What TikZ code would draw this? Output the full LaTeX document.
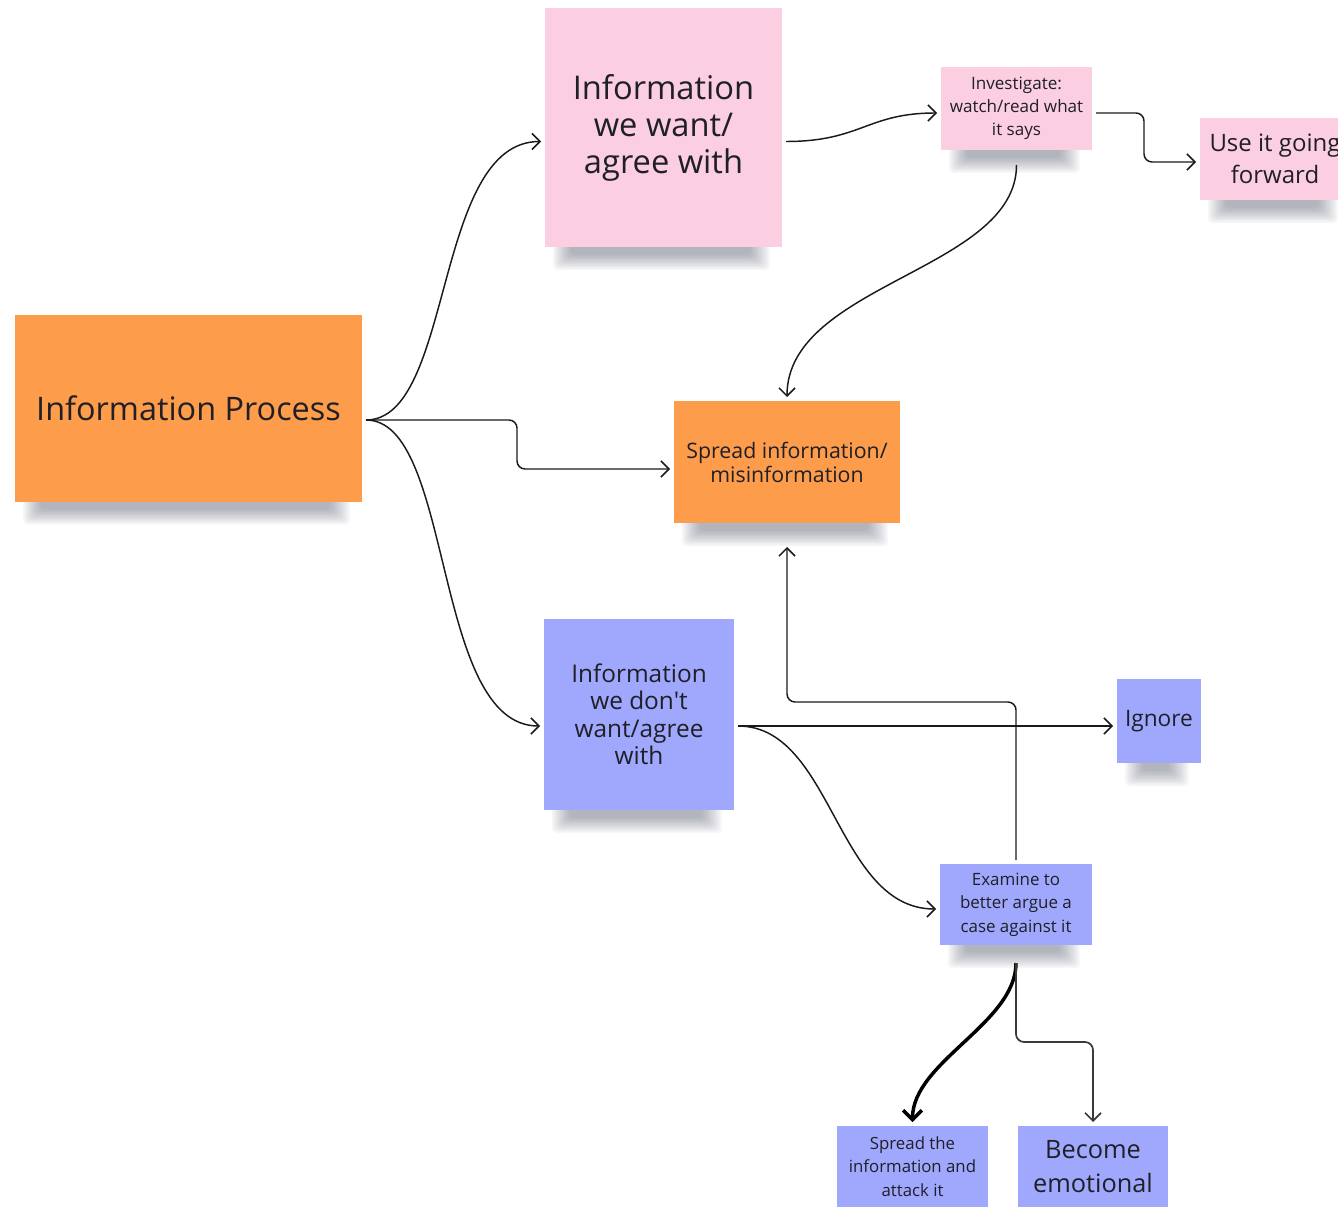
\documentclass[tikz,border=0pt]{standalone}
\usepackage{fontspec}
\setmainfont{Open Sans}[Ligatures=TeXOff]
\usetikzlibrary{arrows.meta,calc}
\definecolor{orangenote}{HTML}{FD9C4B}
\definecolor{pinknote}{HTML}{FBCEE2}
\definecolor{bluenote}{HTML}{A0A8FE}
\definecolor{inktext}{HTML}{1F1F26}
\definecolor{lineink}{HTML}{1A1A1A}
\definecolor{greyink}{HTML}{3A3A3A}
\definecolor{shadowink}{HTML}{3A3F55}
\pgfdeclarelayer{background}
\pgfsetlayers{background,main}
\newcommand{\noteshadow}[1]{%
  \begin{pgfonlayer}{background}
  \foreach \i in {0,...,11}{
    \fill[shadowink, opacity=0.04, rounded corners=3pt]
      ($(#1.south west)+({12+1.6*\i},-8)$) rectangle ($(#1.south east)+({-16-1.8*\i},{19-1.4*\i})$);
  }
  \end{pgfonlayer}}
\begin{document}
\begin{tikzpicture}[x=0.75pt,y=-0.75pt,
  note/.style={inner sep=0pt, outer sep=3pt, align=center, text=inktext},
  conn/.style={draw=lineink, line width=1.1pt, -{Straight Barb[length=6pt,width=12pt]}},
  thickconn/.style={draw=black, line width=2.6pt, -{Straight Barb[length=7pt,width=14pt]}},
  ]
\useasboundingbox (0,0) rectangle (1338,1209);
\clip (0,0) rectangle (1338,1209);

% notes
\node[note, fill=orangenote, minimum width=260.25pt, minimum height=140.25pt,
  font=\fontsize{24.3}{28}\selectfont] (ip) at (188.5,408) {Information Process};
\node[note, fill=pinknote, minimum width=177.75pt, minimum height=179.25pt,
  font=\fontsize{24.5}{27.75}\selectfont] (want) at (663.5,127.5) {Information\\we want/\\agree with};
\node[note, fill=pinknote, minimum width=113.25pt, minimum height=62.25pt,
  font=\fontsize{12.8}{17.2}\selectfont] (inv) at (1016.5,108.5) {Investigate:\\watch/read what\\it says};
\node[note, fill=pinknote, minimum width=112.5pt, minimum height=61.5pt,
  font=\fontsize{18}{24}\selectfont] (use) at (1275,159) {Use it going\\forward};
\node[note, fill=orangenote, minimum width=169.5pt, minimum height=91.5pt,
  font=\fontsize{16}{18}\selectfont] (spread) at (787,462) {Spread information/\\misinformation};
\node[note, fill=bluenote, minimum width=142.5pt, minimum height=143.25pt,
  font=\fontsize{18.3}{20.6}\selectfont] (dont) at (639,714.5) {Information\\we don't\\want/agree\\with};
\node[note, fill=bluenote, minimum width=63pt, minimum height=63pt,
  font=\fontsize{17}{20.6}\selectfont] (ign) at (1159,721) {Ignore};
\node[note, fill=bluenote, minimum width=114pt, minimum height=60.75pt,
  font=\fontsize{12.7}{17.6}\selectfont] (exam) at (1016,904.5) {Examine to\\better argue a\\case against it};
\node[note, fill=bluenote, minimum width=113.25pt, minimum height=60.75pt,
  font=\fontsize{12.6}{17.4}\selectfont] (atk) at (912.5,1166.5) {Spread the\\information and\\attack it};
\node[note, fill=bluenote, minimum width=112.5pt, minimum height=60.75pt,
  font=\fontsize{19}{25.5}\selectfont] (emo) at (1093,1166.5) {Become\\emotional};

% shadows
\noteshadow{ip}
\noteshadow{want}
\noteshadow{inv}
\noteshadow{use}
\noteshadow{spread}
\noteshadow{dont}
\noteshadow{ign}
\noteshadow{exam}

% connectors
\draw[conn] ($(ip.east)+(0,12)$) .. controls +(88,0) and +(-108,0) .. ($(want.west)+(0,14)$);
\draw[conn] ($(ip.east)+(0,12)$) .. controls +(88,0) and +(-108,0) .. ($(dont.west)+(0,11.5)$);
\draw[conn, rounded corners=6pt] ($(ip.east)+(0,12)$) -- ++(151,0) |- ($(spread.west)+(0,7)$);
\draw[conn] ($(want.east)+(0,14)$) .. controls +(75,0) and +(-70,0) .. ($(inv.west)+(0,4.5)$);
\draw[conn, rounded corners=6pt] ($(inv.east)+(0,4.5)$) -- ++(48,0) |- ($(use.west)+(0,3)$);
\draw[conn] ($(inv.south)+(0,11)$) .. controls +(0,105) and +(0,-113) .. (spread.north);
\draw[conn] ($(dont.east)+(0,11.5)$) -- ($(ign.west)+(0,5)$);
\draw[conn] ($(dont.east)+(0,11.5)$) .. controls +(95,0) and +(-100,0) .. ($(exam.west)+(0,4.5)$);
\draw[conn, rounded corners=6pt] (exam.north) -- ++(0,-158) -| ($(spread.south)+(0,20)$);
\draw[thickconn] ($(exam.south)+(0,14)$) .. controls +(0,60) and +(0,-60) .. (atk.north);
\draw[conn, draw=greyink, line width=1.3pt, rounded corners=6pt] ($(exam.south)+(0,14)$) -- ++(0,79) -| (emo.north);
\end{tikzpicture}
\end{document}
